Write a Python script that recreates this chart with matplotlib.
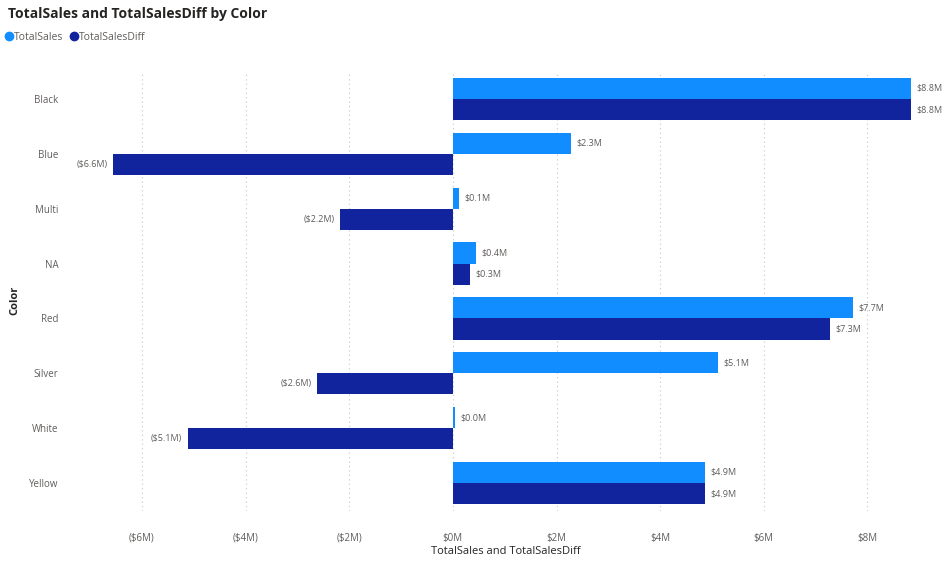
import matplotlib
matplotlib.use("Agg")
import matplotlib.pyplot as plt
import numpy as np
from matplotlib.lines import Line2D

colors_cat = ["Black", "Blue", "Multi", "NA", "Red", "Silver", "White", "Yellow"]
total_sales = [8.84, 2.28, 0.12, 0.44, 7.72, 5.12, 0.04, 4.86]
total_sales_diff = [8.84, -6.56, -2.18, 0.33, 7.28, -2.62, -5.12, 4.86]
tick_values = [-6, -4, -2, 0, 2, 4, 6, 8]

SALES_COLOR = "#118DFF"
DIFF_COLOR = "#12239E"
TEXT_COLOR = "#605E5C"
TITLE_COLOR = "#252423"

plt.rcParams["font.family"] = ["Open Sans", "DejaVu Sans"]

W, H = 945, 563
fig = plt.figure(figsize=(W / 100, H / 100), dpi=100)
fig.patch.set_facecolor("white")

left, right, top, bottom = 100, 912, 71.5, 510.5
ax = fig.add_axes([left / W, 1 - bottom / H, (right - left) / W, (bottom - top) / H])

def money(v):
    s = f"${abs(v):.1f}M"
    return f"({s})" if v < 0 else s

def tick_fmt(v):
    s = f"${abs(v):.0f}M"
    return f"({s})" if v < 0 else s

y = np.arange(len(colors_cat))
h = 0.385
b1 = ax.barh(y - h / 2, total_sales, height=h, color=SALES_COLOR)
b2 = ax.barh(y + h / 2, total_sales_diff, height=h, color=DIFF_COLOR)
ax.bar_label(b1, labels=[money(v) for v in total_sales], padding=4,
             fontsize=6.5, color=TEXT_COLOR)
ax.bar_label(b2, labels=[money(v) for v in total_sales_diff], padding=4,
             fontsize=6.5, color=TEXT_COLOR)

ax.set_ylim(len(colors_cat) - 0.5, -0.5)
ax.set_xlim(-6.81, 8.86)
ax.set_yticks(y)
ax.set_yticklabels(colors_cat)
ax.set_xticks(tick_values)
ax.set_xticklabels([tick_fmt(v) for v in tick_values])
ax.tick_params(axis="y", length=0, pad=30, labelsize=7, labelcolor=TEXT_COLOR)
ax.tick_params(axis="x", length=0, pad=16, labelsize=7, labelcolor=TEXT_COLOR)
for s in ax.spines.values():
    s.set_visible(False)
ax.set_axisbelow(True)
ax.grid(axis="x", color="#C8C6C4", linestyle=(0, (1, 3)), linewidth=0.8)
ax.grid(axis="y", visible=False)

ax.set_xlabel("TotalSales and TotalSalesDiff", fontsize=8, color=TITLE_COLOR, labelpad=2)
fig.text(15 / W, 1 - 300 / H, "Color", fontsize=8, color=TITLE_COLOR,
         fontweight="bold", rotation=90, ha="center", va="center")

fig.text(8 / W, 1 - 14 / H, "TotalSales and TotalSalesDiff by Color", fontsize=10,
         color=TITLE_COLOR, fontweight="bold", va="center", ha="left")

handles = [Line2D([], [], marker="o", linestyle="", color=SALES_COLOR, markersize=6),
           Line2D([], [], marker="o", linestyle="", color=DIFF_COLOR, markersize=6)]
fig.legend(handles, ["TotalSales", "TotalSalesDiff"], loc="center left",
           bbox_to_anchor=(4 / W, 1 - 37 / H), ncol=2, frameon=False, fontsize=7.5,
           handletextpad=0.0, columnspacing=0.5, labelcolor=TEXT_COLOR, handlelength=1.0,
           borderaxespad=0, borderpad=0)

fig.savefig("out.png", dpi=100)
